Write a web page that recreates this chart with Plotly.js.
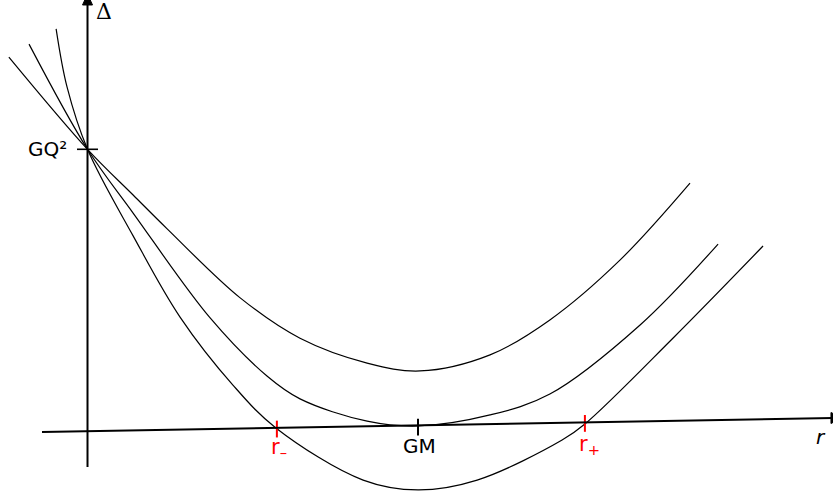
<!DOCTYPE html>
<html>
<head>
<meta charset="utf-8">
<script src="https://cdn.plot.ly/plotly-3.0.1.min.js"></script>
<style>
  html, body { margin: 0; padding: 0; background: #fff; }
  #chart { width: 833px; height: 496px; }
</style>
</head>
<body>
<div id="chart"></div>
<script>
// r in units of GM, delta in units of GQ^2
const upperR = [-0.238, 0, 0.138, 0.241, 0.461, 0.643, 0.846, 1.006, 1.218, 1.399, 1.611, 1.823];
const upperD = [1.327, 1.000, 0.838, 0.718, 0.474, 0.330, 0.242, 0.214, 0.271, 0.395, 0.607, 0.880];

const middleR = [-0.177, 0, 0.138, 0.371, 0.543, 0.643, 0.846, 1.000, 1.218, 1.399, 1.672, 1.908];
const middleD = [1.373, 1.000, 0.774, 0.402, 0.196, 0.115, 0.036, 0.019, 0.058, 0.132, 0.377, 0.664];

const lowerR = [-0.095, -0.062, 0, 0.138, 0.280, 0.440, 0.570, 0.834, 1.000, 1.179, 1.436, 1.505, 1.772, 2.044];
const lowerD = [1.427, 1.221, 1.000, 0.693, 0.405, 0.164, 0.012, -0.173, -0.208, -0.173, -0.031, 0.026, 0.331, 0.657];

// marks on the r axis: r-, GM, r+
const tickR = [0.573, 1.000, 1.505];
const tickD = [0.008, 0.015, 0.028];
const tickColors = ['red', 'black', 'red'];

const curve = (x, y) => ({
    x, y,
    type: 'scatter',
    mode: 'lines',
    line: { color: 'black', width: 1.2, shape: 'spline', smoothing: 1 },
    hoverinfo: 'skip'
});

const traces = [
    curve(upperR, upperD),
    curve(middleR, middleD),
    curve(lowerR, lowerD),
    {
        x: tickR, y: tickD,
        type: 'scatter', mode: 'markers',
        marker: { symbol: 'line-ns', size: 12, line: { color: tickColors, width: 2 } },
        hoverinfo: 'skip'
    },
    {
        x: [0], y: [1],
        type: 'scatter', mode: 'markers',
        marker: { symbol: 'line-ew', size: 15, line: { color: 'black', width: 1.6 } },
        hoverinfo: 'skip'
    }
];

const font = { family: 'DejaVu Sans', size: 20, color: 'black' };
const label = (x, y, text, extra) => Object.assign({
    x, y, text, xref: 'x', yref: 'y', showarrow: false, font
}, extra || {});

const layout = {
    width: 833,
    height: 496,
    margin: { l: 0, r: 0, t: 0, b: 0 },
    paper_bgcolor: 'white',
    plot_bgcolor: 'white',
    showlegend: false,
    xaxis: { range: [-0.2648, 2.2557], visible: false, fixedrange: true },
    yaxis: { range: [-0.2294, 1.5294], visible: false, fixedrange: true },
    shapes: [
        // r axis, slightly tilted as in the sketch
        { type: 'line', x0: -0.1377, y0: -0.0025, x1: 2.2557, y1: 0.0472,
          line: { color: 'black', width: 2 } },
        { type: 'path', path: 'M 2.2496 0.0277 L 2.2496 0.0667 L 2.2829 0.0479 Z',
          fillcolor: 'black', line: { color: 'black', width: 1 } },
        // delta axis
        { type: 'line', x0: 0, y0: -0.1266, x1: 0, y1: 1.52,
          line: { color: 'black', width: 2 } },
        { type: 'path', path: 'M -0.0151 1.5117 L 0.0151 1.5117 L 0 1.5507 Z',
          fillcolor: 'black', line: { color: 'black', width: 1 } }
    ],
    annotations: [
        label(0.0499, 1.4869, 'Δ', { font: Object.assign({}, font, { family: 'DejaVu Serif', size: 22 }) }),
        label(-0.056, 1.0, 'GQ²', { xanchor: 'right' }),
        label(1.006, -0.0521, 'GM'),
        label(0.5794, -0.0600, 'r<sub>–</sub>', { font: Object.assign({}, font, { color: 'red', size: 21 }) }),
        label(1.5174, -0.0486, 'r<sub>+</sub>', { font: Object.assign({}, font, { color: 'red', size: 21 }) }),
        label(2.2193, -0.0202, '<i>r</i>')
    ]
};

Plotly.newPlot('chart', traces, layout, { displayModeBar: false, staticPlot: true });
</script>
</body>
</html>
